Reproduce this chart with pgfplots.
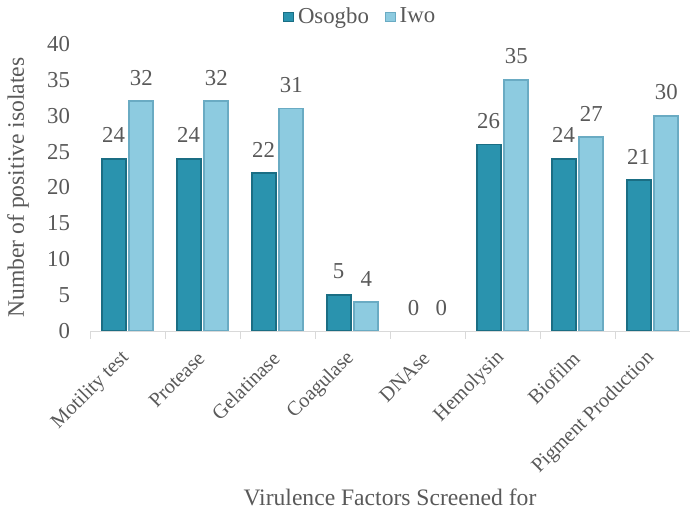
\documentclass[border=0pt]{standalone}
\usepackage{fontspec}
\setmainfont{Liberation Serif}
\usepackage{pgfplots}
\pgfplotsset{compat=1.18}

\definecolor{osgD}{HTML}{1A6E84}
\definecolor{osgM}{HTML}{2A93AE}
\definecolor{iwoD}{HTML}{6AABC3}
\definecolor{iwoM}{HTML}{8DCBE0}
\definecolor{txt}{HTML}{595959}
\definecolor{axl}{HTML}{D9D9D9}

\begin{document}
\begin{tikzpicture}
\path[use as bounding box] (0,0) rectangle (345pt,254pt);
\begin{axis}[
    at={(45pt,88.5pt)}, anchor=south west,
    scale only axis,
    width=300pt, height=143.5pt,
    ybar,
    bar width=0.32,
    xmin=-0.5, xmax=7.5,
    ymin=0, ymax=40,
    ytick={0,5,...,40},
    xtick={0,...,7},
    xticklabels={Motility test,Protease,Gelatinase,Coagulase,DNAse,Hemolysin,Biofilm,Pigment Production},
    minor xtick={-0.5,0.5,...,7.5},
    major tick length=0pt,
    minor tick length=4pt,
    tick align=outside,
    axis lines*=left,
    axis line style={-},
    x axis line style={draw=axl},
    y axis line style={draw=none},
    every minor tick/.style={draw=axl},
    ytick style={draw=none},
    /pgf/number format/assume math mode=true,
    tick label style={text=txt, font=\fontsize{11.4}{13}\selectfont},
    yticklabel style={xshift=-6.5pt},
    xticklabel style={font=\fontsize{10.2}{12}\selectfont, xshift=-0.6pt, yshift=-12pt, rotate=45, anchor=east, inner sep=0pt},
    xlabel={Virulence Factors Screened for},
    ylabel={Number of positive isolates},
    label style={font=\fontsize{11.8}{14}\selectfont},
    xlabel style={text=txt, at={(axis description cs:0.5,-0.578)}, anchor=center},
    ylabel style={text=txt, at={(axis description cs:-0.12,0.5)}, anchor=center, rotate=0},
    nodes near coords,
    every node near coord/.append style={text=txt, font=\fontsize{11.4}{13}\selectfont, yshift=4.2pt},
    legend columns=2,
    legend style={draw=none, at={(0.452,1.094)}, anchor=center, text=txt,
        font=\fontsize{11.4}{13}\selectfont,
        /tikz/every even column/.append style={column sep=6pt},
        inner sep=0pt},
    legend image code/.code={\path[#1, line width=0.6pt] (0pt,-2.4pt) rectangle (4.8pt,2.4pt);},
]
\addplot[fill=osgM, draw=osgD, line width=0.9pt, bar shift=-0.185] coordinates {
    (0,24) (1,24) (2,22) (3,5) (5,26) (6,24) (7,21)};
\addlegendentry{Osogbo}
\addplot[fill=iwoM, draw=iwoD, line width=0.9pt, bar shift=0.185] coordinates {
    (0,32) (1,32) (2,31) (3,4) (5,35) (6,27) (7,30)};
\addlegendentry{Iwo}
% DNAse: zero for both sites, only the labels show
\addplot[draw=none, fill=none, bar shift=-0.185, forget plot] coordinates {(4,0)};
\addplot[draw=none, fill=none, bar shift=0.185, forget plot] coordinates {(4,0)};
\end{axis}
\end{tikzpicture}
\end{document}
